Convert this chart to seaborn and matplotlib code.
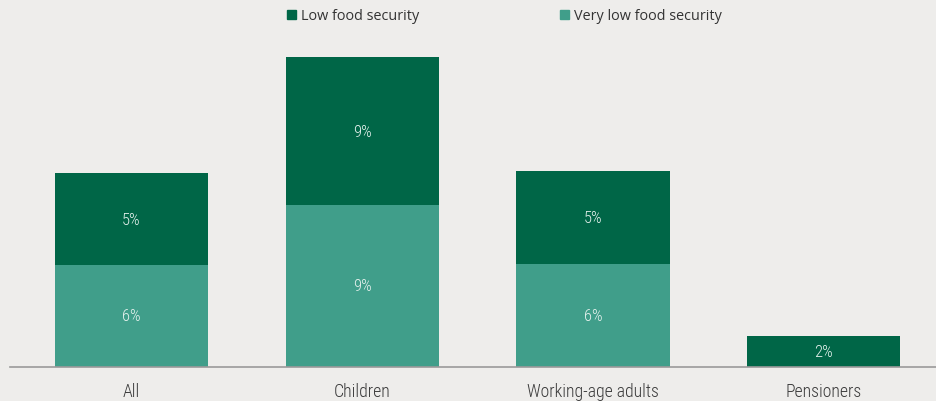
import matplotlib
matplotlib.use("Agg")

import matplotlib.pyplot as plt
import pandas as pd
import seaborn as sns
from matplotlib.patches import Patch

# Share of people in food-insecure households (%)
categories = ["All", "Children", "Working-age adults", "Pensioners"]
very_low = [5.87, 9.36, 5.93, 0.0]
low = [5.35, 8.6, 5.4, 1.75]
very_low_labels = ["6%", "9%", "6%", ""]
low_labels = ["5%", "9%", "5%", "2%"]
series_names = ["Low food security", "Very low food security"]

DARK = "#006647"
LIGHT = "#409e8a"
BG = "#eeedeb"

frame = pd.DataFrame({"group": categories, "very_low": very_low, "low": low})
frame["total"] = frame["very_low"] + frame["low"]

sns.set_theme(style="white")
plt.rcParams["font.family"] = ["Open Sans", "DejaVu Sans"]
narrow = ["Roboto Condensed", "Liberation Sans Narrow", "Open Sans", "DejaVu Sans"]

fig = plt.figure(figsize=(9.37, 4.02), dpi=100, facecolor=BG)
ax = fig.add_axes([10 / 937, (402 - 367.5) / 402, 927 / 937, (367.5 - 40) / 402])
ax.set_facecolor(BG)

sns.barplot(data=frame, x="group", y="total", color=DARK, width=0.665,
            saturation=1, linewidth=0, ax=ax)
sns.barplot(data=frame, x="group", y="very_low", color=LIGHT, width=0.665,
            saturation=1, linewidth=0, ax=ax)

for i, row in frame.iterrows():
    if very_low_labels[i]:
        ax.text(i, row["very_low"] / 2, very_low_labels[i], ha="center", va="center",
                color="#e6f2ee", fontsize=12, family=narrow, fontweight="light")
    ax.text(i, row["very_low"] + row["low"] / 2, low_labels[i], ha="center",
            va="center", color="#e6f2ee", fontsize=12, family=narrow, fontweight="light")

ax.set_xlim(-0.527, 3.492)
ax.set_ylim(0, 19.0)
ax.set_xlabel("")
ax.set_ylabel("")
ax.set_yticks([])
for side in ["top", "right", "left"]:
    ax.spines[side].set_visible(False)
ax.spines["bottom"].set_color("#9a9a9a")
ax.spines["bottom"].set_linewidth(1.2)
ax.tick_params(axis="x", length=0, pad=11, labelsize=12.8, labelcolor="#3a3a3a")
for lbl in ax.get_xticklabels():
    lbl.set_family(narrow)
    lbl.set_fontweight("light")

# one legend per entry so each sits where the reference puts it
for name, colour, x in zip(series_names, [DARK, LIGHT], [287, 560]):
    fig.legend(handles=[Patch(color=colour, label=name)], loc="center left",
               bbox_to_anchor=(x / 937, 1 - 17 / 402), frameon=False, fontsize=10.4,
               handlelength=0.65, handleheight=0.65, handletextpad=0.35,
               borderpad=0, borderaxespad=0, labelcolor="#333333")

fig.savefig("out.png", dpi=100, facecolor=BG)
